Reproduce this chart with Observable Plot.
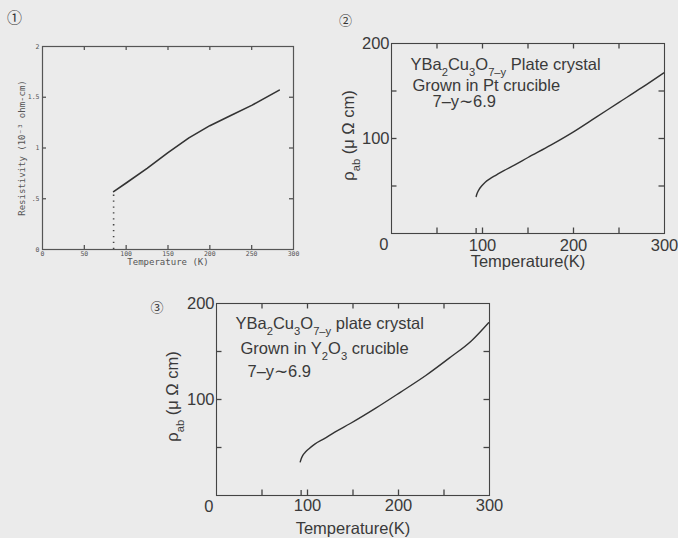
<!DOCTYPE html>
<html>
<head>
<meta charset="utf-8">
<script src="https://cdn.jsdelivr.net/npm/d3@7"></script>
<script src="https://cdn.jsdelivr.net/npm/@observablehq/plot@0.6"></script>
<style>
  html, body { margin: 0; padding: 0; background: #ebebeb; }
  #page { position: relative; width: 678px; height: 538px; overflow: hidden; background: #ebebeb; }
  .panel { position: absolute; }
  .panel svg { overflow: visible; }
  .num { position: absolute; font-family: "Noto Sans CJK JP"; color: #333; line-height: 1; transform: translate(-50%, -50%); }
</style>
</head>
<body>
<div id="page"></div>
<script>
// ① Resistivity of the sintered sample, 10^-3 ohm-cm
const p1Temp = [85, 100, 125, 150, 175, 200, 225, 250, 283];
const p1Rho = [0.57, 0.655, 0.80, 0.955, 1.10, 1.22, 1.32, 1.42, 1.57];
const p1DropTemp = [85];          // dotted superconducting drop
const p1DropRho = [0.55];
const p1XTicks = [0, 50, 100, 150, 200, 250, 300];
const p1YTicks = [0, 0.5, 1, 1.5, 2];
const p1YTickLabels = ["0", ".5", "1", "1.5", "2"];

// ② Plate crystal grown in Pt crucible, rho_ab in micro-ohm cm
const p2Temp = [93, 94, 96, 99, 103, 108, 115, 123, 135, 150, 175, 200, 225, 250, 275, 299];
const p2Rho = [39, 42, 46, 50, 54, 57.5, 61.5, 66, 72, 80, 93, 107, 122.5, 138, 153.5, 169];

// ③ Plate crystal grown in Y2O3 crucible
const p3Temp = [92, 93, 95, 98, 102, 108, 118, 130, 147, 175, 202, 230, 257, 280, 299];
const p3Rho = [35, 38, 42, 45.5, 49, 53.5, 59, 66, 75, 91, 107.5, 125, 144, 161, 180];

// shared axes of ② and ③
const tempLabels = [100, 200, 300];
const tempMinor = [50, 100, 150, 200, 250];
const rhoLabels = [100, 200];
const rhoMinor = [50, 100, 150];
const tcTick = [93];

const p2Lines = ["YBa_{2}Cu_{3}O_{7–y} Plate crystal", "Grown in Pt crucible", "7–y∼6.9"];
const p3Lines = ["YBa_{2}Cu_{3}O_{7–y} plate crystal", "Grown in Y_{2}O_{3} crucible", "7–y∼6.9"];
const rhoTitle = "ρ_{ab} (μ Ω cm)";
const tempTitle = "Temperature(K)";

const page = document.getElementById("page");

// turn _{..} and ^{..} into sub/superscript tspans
function richify(svg) {
  d3.select(svg).selectAll("g.rich text").each(function () {
    const s = this.textContent;
    this.textContent = "";
    for (const p of s.split(/(_\{[^}]*\}|\^\{[^}]*\})/)) {
      if (!p) continue;
      const t = document.createElementNS("http://www.w3.org/2000/svg", "tspan");
      if (p.startsWith("_{") || p.startsWith("^{")) {
        t.textContent = p.slice(2, -1);
        t.setAttribute("baseline-shift", p[0] === "_" ? "sub" : "super");
        t.setAttribute("font-size", "68%");
      } else t.textContent = p;
      this.appendChild(t);
    }
  });
}

function place(svg, left, top) {
  const d = document.createElement("div");
  d.className = "panel";
  d.style.left = left + "px";
  d.style.top = top + "px";
  d.appendChild(svg);
  page.appendChild(d);
}

function circled(ch, x, y, size) {
  const s = document.createElement("div");
  s.className = "num";
  s.textContent = ch;
  s.style.left = x + "px";
  s.style.top = y + "px";
  s.style.fontSize = size + "px";
  page.appendChild(s);
}

// inward tick marks on all four sides of the frame; length t in pixels
function frameTicks(xs, ys, xDom, yDom, iw, ih, t, stroke) {
  const dx = (xDom[1] - xDom[0]) * t / iw, dy = (yDom[1] - yDom[0]) * t / ih;
  const o = {stroke, strokeWidth: 1.3};
  return [
    Plot.ruleX(xs, {x: d => d, y1: yDom[0], y2: yDom[0] + dy, ...o}),
    Plot.ruleX(xs, {x: d => d, y1: yDom[1], y2: yDom[1] - dy, ...o}),
    Plot.ruleY(ys, {y: d => d, x1: xDom[0], x2: xDom[0] + dx, ...o}),
    Plot.ruleY(ys, {y: d => d, x1: xDom[1], x2: xDom[1] - dx, ...o})
  ];
}

// ---- panel ① ----
{
  const W = 320, H = 280, mL = 42, mR = 27, mT = 46, mB = 31;
  const iw = W - mL - mR, ih = H - mT - mB;
  const ink = "#555";
  const svg = Plot.plot({
    width: W, height: H, marginLeft: mL, marginRight: mR, marginTop: mT, marginBottom: mB,
    x: {domain: [0, 300], axis: null},
    y: {domain: [0, 2], axis: null},
    style: {background: "transparent", fontFamily: "DejaVu Sans Mono", color: ink},
    marks: [
      Plot.frame({stroke: ink, strokeWidth: 1.2}),
      ...frameTicks(p1XTicks.slice(1, -1), p1YTicks.slice(1, -1), [0, 300], [0, 2], iw, ih, 4, ink),
      Plot.text(p1XTicks, {x: d => d, text: d => String(d), frameAnchor: "bottom", dy: 4, lineAnchor: "middle", fontSize: 6.5, fill: ink}),
      Plot.text(p1YTicks, {y: d => d, text: (d, i) => p1YTickLabels[i], frameAnchor: "left", dx: -3, textAnchor: "end", fontSize: 6.5, fill: ink}),
      Plot.text(["Temperature (K)"], {frameAnchor: "bottom", dy: 15, fontSize: 9, fill: ink}),
      Plot.text(["Resistivity (10⁻³ ohm-cm)"], {frameAnchor: "left", rotate: -90, dx: -20, textAnchor: "middle", fontSize: 9, fill: ink}),
      Plot.ruleX(p1DropTemp, {x: d => d, y1: 0, y2: (d, i) => p1DropRho[i], stroke: "#444", strokeWidth: 1.6, strokeDasharray: "1.3,4.6"}),
      Plot.line(p1Temp.map((x, i) => ({x, y: p1Rho[i]})), {x: "x", y: "y", stroke: "#333", strokeWidth: 1.6})
    ]
  });
  place(svg, 0, 0);
}

// ---- panels ② and ③ ----
function crystalPanel({temp, rho, lines, W, H, mL, mR, mT, mB, xLabDy, titleDy, zeroDx, zeroDy, yTitleDx, yTitleDy, anno}) {
  const iw = W - mL - mR, ih = H - mT - mB;
  const ink = "#3a3a3a";
  const tcLen = 200 * 5 / ih;
  const svg = Plot.plot({
    width: W, height: H, marginLeft: mL, marginRight: mR, marginTop: mT, marginBottom: mB,
    x: {domain: [0, 300], axis: null},
    y: {domain: [0, 200], axis: null},
    style: {background: "transparent", fontFamily: "Liberation Sans, Arial, sans-serif", fontSize: "16px", color: ink},
    marks: [
      Plot.frame({stroke: "#444", strokeWidth: 1.1}),
      ...frameTicks(tempMinor, rhoMinor, [0, 300], [0, 200], iw, ih, 5.5, "#444"),
      Plot.ruleX(tcTick, {x: d => d, y1: 0, y2: tcLen, stroke: "#444", strokeWidth: 1.3}),
      Plot.text(tempLabels, {x: d => d, text: d => String(d), frameAnchor: "bottom", dy: xLabDy, lineAnchor: "middle", fontSize: 16.5, fill: ink}),
      Plot.text(rhoLabels, {y: d => d, text: d => String(d), frameAnchor: "left", dx: -2, textAnchor: "end", fontSize: 16.5, fill: ink}),
      Plot.text([0], {frameAnchor: "bottom-left", text: d => String(d), dx: zeroDx, dy: zeroDy, textAnchor: "end", lineAnchor: "middle", fontSize: 16.5, fill: ink}),
      Plot.text([tempTitle], {frameAnchor: "bottom", dy: titleDy, lineAnchor: "middle", fontSize: 16.5, fill: ink}),
      Plot.text([rhoTitle], {frameAnchor: "left", rotate: -90, dx: yTitleDx, dy: yTitleDy, textAnchor: "middle", fontSize: 16.5, fill: ink, className: "rich"}),
      ...lines.map((s, i) => Plot.text([s], {frameAnchor: "top-left", dx: anno[i][0], dy: anno[i][1], textAnchor: "start", lineAnchor: "bottom", fontSize: 16.5, fill: ink, className: "rich"})),
      Plot.line(temp.map((x, i) => ({x, y: rho[i]})), {x: "x", y: "y", stroke: "#333", strokeWidth: 1.4, curve: "monotone-x"})
    ]
  });
  richify(svg);
  return svg;
}

place(crystalPanel({
  temp: p2Temp, rho: p2Rho, lines: p2Lines,
  W: 348, H: 280, mL: 61, mR: 14, mT: 43, mB: 47,
  xLabDy: 12, titleDy: 28, zeroDx: -3, zeroDy: 11, yTitleDx: -43, yTitleDy: -3,
  anno: [[19, 26], [21, 47], [41, 63]]
}), 330, 0);

place(crystalPanel({
  temp: p3Temp, rho: p3Rho, lines: p3Lines,
  W: 350, H: 258, mL: 66, mR: 11, mT: 23, mB: 43,
  xLabDy: 10, titleDy: 33, zeroDx: -3, zeroDy: 11, yTitleDx: -44, yTitleDy: -3,
  anno: [[19, 25], [24, 50], [31, 73]]
}), 150, 280);

circled("①", 14.5, 16, 15);
circled("②", 345.5, 19, 13);
circled("③", 157, 306, 13);
</script>
</body>
</html>
